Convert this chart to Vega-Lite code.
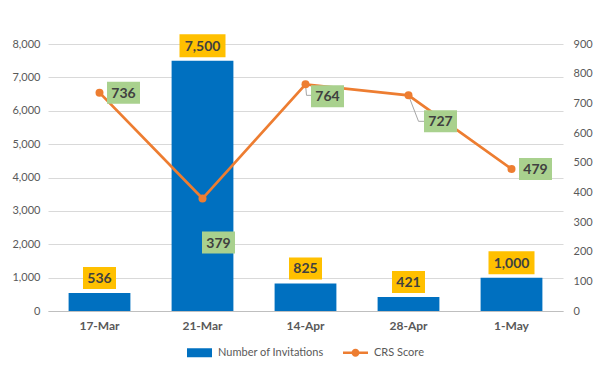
{
  "$schema": "https://vega.github.io/schema/vega-lite/v6.json",
  "width": 515,
  "height": 267,
  "autosize": "none",
  "padding": {"left": 48, "top": 44, "right": 39, "bottom": 61},
  "background": "white",
  "config": {"font": "Lato", "view": {"stroke": null}},
  "data": {
    "values": [
      {"date": "17-Mar", "Invitations": 536, "CRS": 736},
      {"date": "21-Mar", "Invitations": 7500, "CRS": 379},
      {"date": "14-Apr", "Invitations": 825, "CRS": 764},
      {"date": "28-Apr", "Invitations": 421, "CRS": 727},
      {"date": "1-May", "Invitations": 1000, "CRS": 479}
    ]
  },
  "encoding": {
    "x": {
      "field": "date",
      "type": "ordinal",
      "sort": null,
      "scale": {"paddingInner": 0.4, "paddingOuter": 0.2},
      "axis": {
        "title": null,
        "labelAngle": 0,
        "labelFont": "Lato",
        "labelFontSize": 12,
        "labelFontWeight": "bold",
        "labelColor": "#595959",
        "labelPadding": 9,
        "ticks": false,
        "domainColor": "#BFBFBF",
        "domainWidth": 1.2,
        "grid": false
      }
    }
  },
  "layer": [
    {
      "encoding": {
        "y": {
          "field": "Invitations",
          "type": "quantitative",
          "scale": {"domain": [0, 8000], "nice": false},
          "axis": {
            "title": null,
            "orient": "left",
            "values": [0, 1000, 2000, 3000, 4000, 5000, 6000, 7000, 8000],
            "format": ",.0f",
            "labelFont": "Lato",
            "labelFontSize": 11,
            "labelColor": "#595959",
            "labelPadding": 8,
            "ticks": false,
            "domain": false,
            "grid": true,
            "gridColor": "#D9D9D9",
            "gridWidth": 1
          }
        }
      },
      "layer": [
        {
          "mark": {"type": "bar", "color": "#0070C0"},
          "encoding": {
            "color": {
              "datum": "Number of Invitations",
              "type": "nominal",
              "scale": {"domain": ["Number of Invitations", "CRS Score"], "range": ["#0070C0", "#ED7D31"]},
              "legend": {
                "orient": "none",
                "legendX": 139,
                "legendY": 296,
                "direction": "horizontal",
                "title": null,
                "labelFont": "Lato",
                "labelFontSize": 11,
                "labelColor": "#595959",
                "labelOffset": 6,
                "columnPadding": 19,
                "symbolSize": 625,
                "encode": {
                  "symbols": {
                    "update": {
                      "shape": {"signal": "datum.value === 'CRS Score' ? 'M-1,-0.1H-0.3V0.1H-1Z M0.3,-0.1H1V0.1H0.3Z M-0.32,0A0.32,0.32 0 1,1 0.32,0A0.32,0.32 0 1,1 -0.32,0Z' : 'M-1,-0.36H1V0.36H-1Z'"},
                      "fill": {"signal": "datum.value === 'CRS Score' ? '#ED7D31' : '#0070C0'"},
                      "fillOpacity": {"value": 1},
                      "strokeWidth": {"value": 0}
                    }
                  }
                }
              }
            }
          }
        },
        {
          "mark": {"type": "point", "filled": true, "opacity": 1, "color": "#FFC000", "strokeWidth": 0, "yOffset": -15},
          "encoding": {
            "shape": {"condition": {"test": "datum.Invitations >= 1000", "value": "M-1,-0.5H1V0.5H-1Z"}, "value": "M-1,-0.667H1V0.667H-1Z"},
            "size": {"condition": {"test": "datum.Invitations >= 1000", "value": 2116}, "value": 1089}
          }
        },
        {
          "mark": {"type": "text", "font": "Lato", "fontSize": 14, "fontWeight": "bold", "color": "#404040", "baseline": "middle", "align": "center", "yOffset": -14},
          "encoding": {"text": {"field": "Invitations", "type": "quantitative", "format": ","}}
        }
      ]
    },
    {
      "encoding": {
        "y": {
          "field": "CRS",
          "type": "quantitative",
          "scale": {"domain": [0, 900], "nice": false},
          "axis": {
            "title": null,
            "orient": "right",
            "values": [0, 100, 200, 300, 400, 500, 600, 700, 800, 900],
            "labelFont": "Lato",
            "labelFontSize": 11,
            "labelColor": "#595959",
            "labelPadding": 10,
            "ticks": false,
            "domain": false,
            "grid": false
          }
        }
      },
      "layer": [
        {
          "transform": [{"filter": "datum.date === '14-Apr' || datum.date === '28-Apr'"}],
          "mark": {
            "type": "rule", "color": "#A6A6A6", "strokeWidth": 1,
            "x2Offset": {"expr": "datum.date === '14-Apr' ? 1 : 10"},
            "y2Offset": {"expr": "datum.date === '14-Apr' ? 11 : 26"}
          },
          "encoding": {
            "x2": {"field": "date"},
            "y2": {"field": "CRS"}
          }
        },
        {
          "transform": [{"filter": "datum.date === '14-Apr' || datum.date === '28-Apr'"}],
          "mark": {
            "type": "rule", "color": "#A6A6A6", "strokeWidth": 1,
            "xOffset": {"expr": "datum.date === '14-Apr' ? 1 : 10"},
            "yOffset": {"expr": "datum.date === '14-Apr' ? 11 : 26"},
            "x2Offset": {"expr": "datum.date === '14-Apr' ? 6 : 16"},
            "y2Offset": {"expr": "datum.date === '14-Apr' ? 11 : 26"}
          },
          "encoding": {
            "x2": {"field": "date"},
            "y2": {"field": "CRS"}
          }
        },
        {
          "mark": {"type": "line", "strokeWidth": 2.75},
          "encoding": {"color": {"datum": "CRS Score", "type": "nominal"}}
        },
        {
          "mark": {"type": "point", "filled": true, "opacity": 1, "size": 64, "color": "#ED7D31", "strokeWidth": 0}
        },
        {
          "mark": {
            "type": "point", "filled": true, "opacity": 1, "color": "#A9D18E", "strokeWidth": 0,
            "shape": "M-1,-0.667H1V0.667H-1Z", "size": 1089,
            "xOffset": {"expr": "datum.date === '21-Mar' ? 16 : datum.date === '14-Apr' ? 22 : datum.date === '28-Apr' ? 32 : 24"},
            "yOffset": {"expr": "datum.date === '21-Mar' ? 44 : datum.date === '14-Apr' ? 12 : datum.date === '28-Apr' ? 26 : 0"}
          }
        },
        {
          "mark": {
            "type": "text", "font": "Lato", "fontSize": 14, "fontWeight": "bold", "color": "#404040", "baseline": "middle", "align": "center",
            "xOffset": {"expr": "datum.date === '21-Mar' ? 16 : datum.date === '14-Apr' ? 22 : datum.date === '28-Apr' ? 32 : 24"},
            "yOffset": {"expr": "datum.date === '21-Mar' ? 45 : datum.date === '14-Apr' ? 13 : datum.date === '28-Apr' ? 27 : 1"}
          },
          "encoding": {"text": {"field": "CRS", "type": "quantitative"}}
        }
      ]
    }
  ],
  "resolve": {"scale": {"y": "independent"}}
}
